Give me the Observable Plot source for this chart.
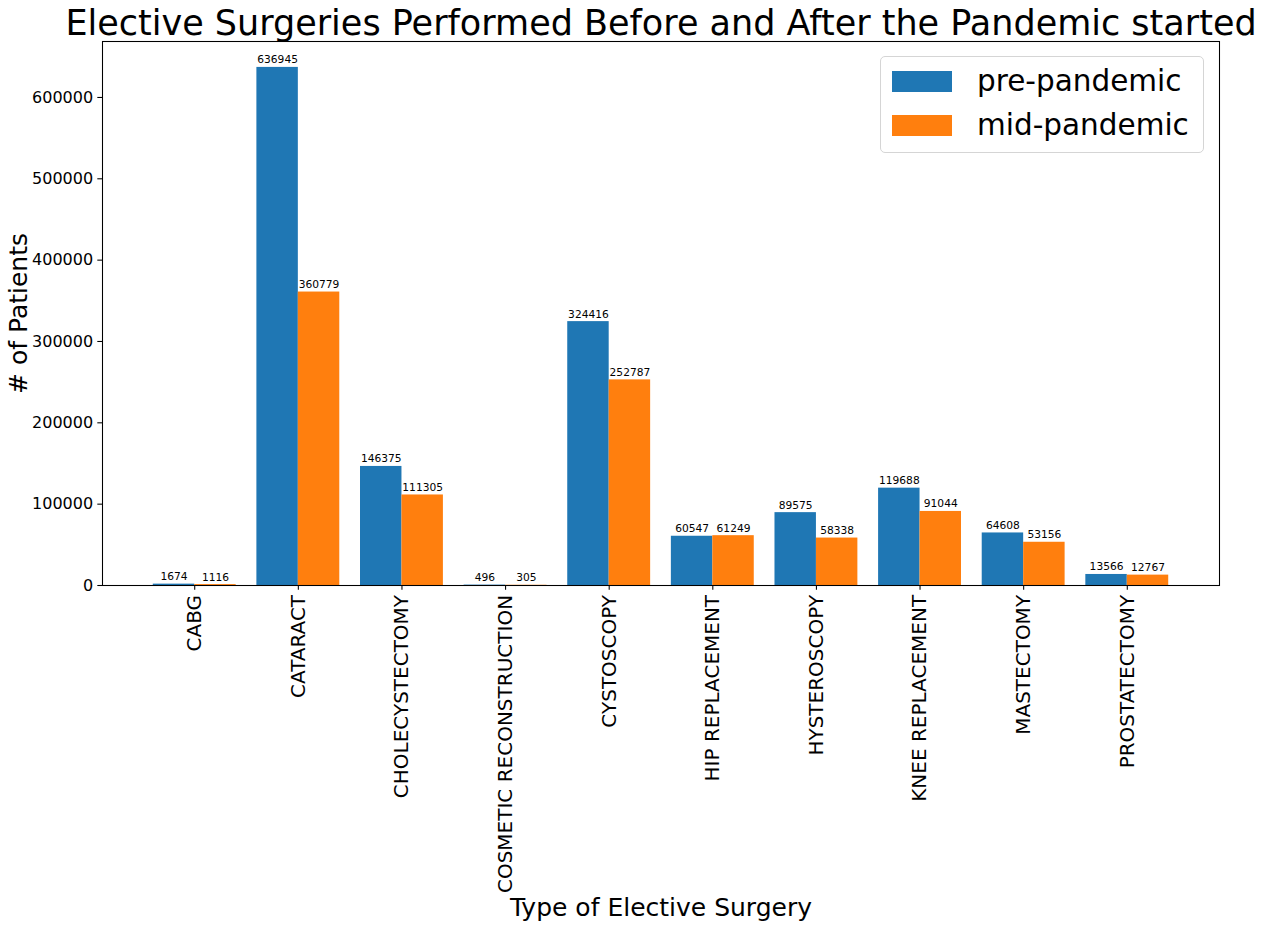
<!DOCTYPE html>
<html>
<head>
<meta charset="utf-8">
<script src="https://cdn.jsdelivr.net/npm/d3@7"></script>
<script src="https://cdn.jsdelivr.net/npm/@observablehq/plot@0.6"></script>
<style>
  html, body { margin: 0; padding: 0; background: #fff; }
  #wrap { position: relative; width: 1262px; height: 926px; font-family: "DejaVu Sans", sans-serif; }
  #legend { position: absolute; left: 880px; top: 56px; width: 324px; height: 97px;
    border: 1px solid #d5d5d5; border-radius: 5px; background: rgba(255,255,255,0.8); box-sizing: border-box; }
  .lg-row { position: absolute; left: 11px; display: flex; align-items: center; }
  .lg-sw { width: 60px; height: 21px; }
  .lg-tx { margin-left: 25px; font-size: 29.5px; color: #000; line-height: 1; white-space: nowrap; }
</style>
</head>
<body>
<div id="wrap"></div>
<script>
const categories = ["CABG", "CATARACT", "CHOLECYSTECTOMY", "COSMETIC RECONSTRUCTION", "CYSTOSCOPY",
  "HIP REPLACEMENT", "HYSTEROSCOPY", "KNEE REPLACEMENT", "MASTECTOMY", "PROSTATECTOMY"];
const prePandemic = [1674, 636945, 146375, 496, 324416, 60547, 89575, 119688, 64608, 13566];
const midPandemic = [1116, 360779, 111305, 305, 252787, 61249, 58338, 91044, 53156, 12767];
const seriesNames = ["pre-pandemic", "mid-pandemic"];
const seriesColors = ["#1f77b4", "#ff7f0e"];
const yTicks = [0, 100000, 200000, 300000, 400000, 500000, 600000];
const title = "Elective Surgeries Performed Before and After the Pandemic started";
const xLabel = "Type of Elective Surgery";
const yLabel = "# of Patients";

const barWidth = 0.4;
const rows = [];
categories.forEach((c, i) => {
  rows.push({cat: c, i, series: seriesNames[0], value: prePandemic[i], x1: i - barWidth, x2: i});
  rows.push({cat: c, i, series: seriesNames[1], value: midPandemic[i], x1: i, x2: i + barWidth});
});

const xMin = -barWidth, xMax = categories.length - 1 + barWidth;
const xPad = (xMax - xMin) * 0.05;
const yMax = d3.max(rows, d => d.value) * 1.05;

const chart = Plot.plot({
  width: 1262,
  height: 926,
  marginLeft: 102,
  marginRight: 43,
  marginTop: 41,
  marginBottom: 341,
  style: {fontFamily: "DejaVu Sans", fontSize: "16px", color: "#000", background: "#fff", overflow: "visible"},
  x: {domain: [xMin - xPad, xMax + xPad]},
  y: {domain: [0, yMax]},
  color: {domain: seriesNames, range: seriesColors},
  marks: [
    Plot.rect(rows, {x1: "x1", x2: "x2", y1: 0, y2: "value", fill: "series"}),
    Plot.text(rows, {x: d => (d.x1 + d.x2) / 2, y: "value", text: d => String(d.value),
      dy: -4, lineAnchor: "bottom", fontSize: 10.67, fill: "#000"}),
    Plot.frame({stroke: "#000", strokeWidth: 1.07}),
    Plot.axisY({ticks: yTicks, tickFormat: d => String(d), tickSize: 4.7, tickPadding: 4.7,
      fontSize: 16, label: null, strokeWidth: 1.07}),
    Plot.axisX({ticks: categories.map((c, i) => i), tickFormat: i => categories[i], tickRotate: -90,
      tickSize: 4.7, tickPadding: 4.7, fontSize: 20, label: null, strokeWidth: 1.07}),
    Plot.text([title], {frameAnchor: "top", text: d => d, dy: -7, lineAnchor: "bottom", textAnchor: "middle", fontSize: 35, fill: "#000"}),
    Plot.text([xLabel], {frameAnchor: "bottom", text: d => d, dy: 330, lineAnchor: "bottom", textAnchor: "middle", fontSize: 25, fill: "#000"}),
    Plot.text([yLabel], {frameAnchor: "left", text: d => d, dx: -76, rotate: -90, lineAnchor: "bottom", textAnchor: "middle", fontSize: 25, fill: "#000"})
  ]
});

const wrap = document.getElementById("wrap");
wrap.appendChild(chart);

const legend = document.createElement("div");
legend.id = "legend";
seriesNames.forEach((name, k) => {
  const row = document.createElement("div");
  row.className = "lg-row";
  row.style.top = (k === 0 ? 10 : 54) + "px";
  const sw = document.createElement("div");
  sw.className = "lg-sw";
  sw.style.background = seriesColors[k];
  const tx = document.createElement("span");
  tx.className = "lg-tx";
  tx.textContent = name;
  row.appendChild(sw);
  row.appendChild(tx);
  legend.appendChild(row);
});
wrap.appendChild(legend);
</script>
</body>
</html>
